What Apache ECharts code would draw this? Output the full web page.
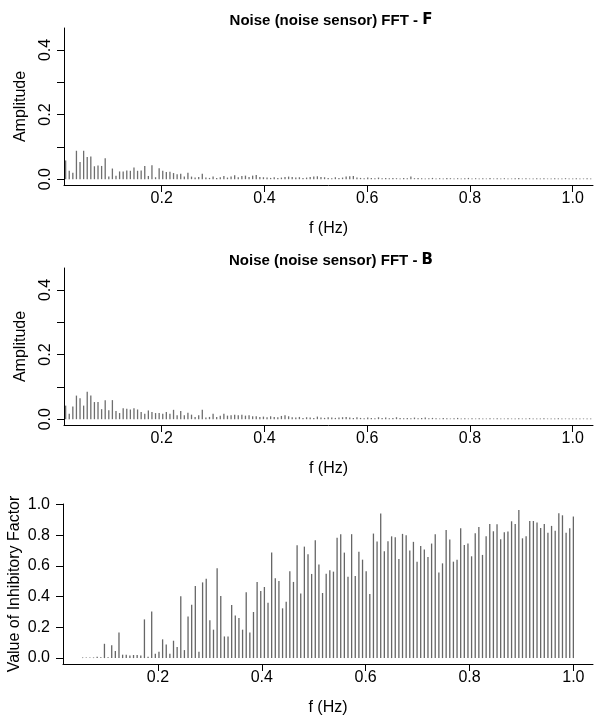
<!DOCTYPE html>
<html>
<head>
<meta charset="utf-8">
<script src="https://cdn.jsdelivr.net/npm/echarts@6/dist/echarts.min.js"></script>
<style>
  html, body { margin: 0; padding: 0; background: #fff; }
  #chart { width: 597px; height: 715px; }
</style>
</head>
<body>
<div id="chart"></div>
<script>
// FFT amplitude of the noise sensor, front (F) and back (B) channels
const fftF = [
  0.058,0.026,0.020,0.088,0.053,0.088,0.069,0.070,0.040,0.042,
  0.041,0.065,0.008,0.033,0.011,0.024,0.024,0.027,0.026,0.036,
  0.026,0.027,0.041,0.010,0.043,0.006,0.034,0.026,0.022,0.023,
  0.019,0.015,0.017,0.008,0.020,0.008,0.005,0.007,0.017,0.005,
  0.004,0.008,0.004,0.006,0.010,0.005,0.008,0.012,0.006,0.010,
  0.011,0.007,0.011,0.013,0.007,0.006,0.005,0.004,0.006,0.004,
  0.005,0.007,0.008,0.007,0.005,0.006,0.004,0.005,0.007,0.008,
  0.009,0.007,0.006,0.004,0.003,0.006,0.004,0.005,0.008,0.009,
  0.010,0.005,0.004,0.003,0.005,0.004,0.003,0.005,0.003,0.004,
  0.003,0.004,0.003,0.002,0.004,0.003,0.008,0.003,0.004,0.003,
  0.002,0.003,0.004,0.002,0.003,0.002,0.004,0.003,0.002,0.003,
  0.002,0.003,0.004,0.002,0.003,0.002,0.003,0.002,0.004,0.002,
  0.003,0.002,0.003,0.002,0.002,0.003,0.004,0.002,0.003,0.002,
  0.002,0.003,0.002,0.003,0.002,0.002,0.003,0.002,0.002,0.003,
  0.002,0.002,0.003,0.002,0.002,0.003,0.002
];
const fftB = [
  0.042,0.017,0.039,0.073,0.065,0.042,0.085,0.073,0.053,0.053,
  0.031,0.059,0.028,0.059,0.025,0.019,0.034,0.032,0.030,0.034,
  0.030,0.022,0.017,0.027,0.022,0.019,0.019,0.017,0.022,0.017,
  0.029,0.012,0.025,0.012,0.020,0.014,0.007,0.012,0.029,0.005,
  0.007,0.017,0.007,0.011,0.017,0.011,0.012,0.014,0.012,0.014,
  0.011,0.012,0.009,0.009,0.007,0.008,0.006,0.009,0.007,0.006,
  0.010,0.012,0.009,0.006,0.005,0.007,0.004,0.006,0.005,0.004,
  0.008,0.005,0.004,0.006,0.005,0.004,0.005,0.006,0.007,0.005,
  0.004,0.006,0.004,0.003,0.005,0.004,0.003,0.006,0.004,0.005,
  0.003,0.004,0.006,0.004,0.003,0.004,0.003,0.005,0.003,0.004,
  0.005,0.003,0.004,0.003,0.002,0.004,0.003,0.002,0.003,0.004,
  0.002,0.003,0.002,0.003,0.002,0.003,0.002,0.002,0.003,0.002,
  0.003,0.002,0.002,0.003,0.002,0.002,0.003,0.002,0.002,0.003,
  0.002,0.002,0.002,0.003,0.002,0.002,0.002,0.003,0.002,0.002,
  0.002,0.002,0.002,0.002,0.002,0.002,0.002
];
// Inhibitory factor per frequency bin
const inhibitory = [
  0.004,0.004,0.004,0.004,0.009,0.005,0.093,0.005,0.083,0.046,
  0.167,0.022,0.022,0.017,0.020,0.020,0.017,0.252,0.009,0.304,
  0.028,0.041,0.122,0.089,0.028,0.113,0.072,0.402,0.052,0.270,
  0.348,0.470,0.041,0.493,0.517,0.246,0.185,0.585,0.404,0.141,
  0.141,0.346,0.278,0.261,0.185,0.428,0.167,0.300,0.496,0.437,
  0.463,0.361,0.687,0.520,0.502,0.324,0.367,0.565,0.496,0.735,
  0.420,0.726,0.676,0.548,0.767,0.609,0.424,0.550,0.572,0.563,
  0.783,0.807,0.687,0.530,0.807,0.535,0.693,0.641,0.565,0.417,
  0.811,0.759,0.941,0.696,0.761,0.793,0.787,0.646,0.809,0.800,
  0.700,0.757,0.628,0.730,0.707,0.659,0.746,0.807,0.557,0.617,
  0.835,0.772,0.628,0.641,0.846,0.737,0.746,0.663,0.813,0.854,
  0.672,0.793,0.874,0.826,0.872,0.774,0.820,0.824,0.891,0.874,
  0.965,0.780,0.793,0.893,0.893,0.883,0.848,0.874,0.817,0.861,
  0.830,0.943,0.930,0.817,0.846,0.922
];

// frequency grid (Hz): first bin and bin spacing
const FFT_START = 0.013;
const INHIB_START = 0.055;
const BIN_STEP = 0.007;

const freqTicks = [0.2, 0.4, 0.6, 0.8, 1.0];
const ampTicks = [0, 0.1, 0.2, 0.3, 0.4];
const ampLabels = [0, 0.2, 0.4];
const inhibTicks = [0, 0.2, 0.4, 0.6, 0.8, 1.0];

const FONT = '"Liberation Sans", Arial, Helvetica, sans-serif';

function toPairs(start, values) {
  return values.map((v, i) => [+(start + i * BIN_STEP).toFixed(4), v]);
}

const axisLineStyle = { show: true, onZero: false, lineStyle: { color: '#000', width: 1 } };
const labelText = { color: '#000', fontFamily: FONT, fontSize: 16 };

function freqAxis(gridIndex, min, max) {
  return {
    type: 'value', gridIndex, min, max,
    axisLine: axisLineStyle,
    axisTick: { show: true, length: 7, customValues: freqTicks, lineStyle: { color: '#000' } },
    axisLabel: Object.assign({ customValues: freqTicks, margin: 6, formatter: v => v.toFixed(1) }, labelText),
    splitLine: { show: false },
    name: 'f (Hz)', nameLocation: 'middle', nameGap: 36, nameMoveOverlap: false,
    nameTextStyle: labelText
  };
}

function ampAxis(gridIndex) {
  return {
    type: 'value', gridIndex, min: -0.018, max: 0.468,
    axisLine: axisLineStyle,
    axisTick: { show: true, length: 7, customValues: ampTicks, lineStyle: { color: '#000' } },
    axisLabel: Object.assign({ customValues: ampLabels, margin: 10, rotate: 90, formatter: v => v.toFixed(1) }, labelText),
    splitLine: { show: false },
    name: 'Amplitude', nameLocation: 'middle', nameGap: 35, nameMoveOverlap: false,
    nameTextStyle: labelText
  };
}

function spikes(name, xi, data, color) {
  return {
    name, type: 'bar', xAxisIndex: xi, yAxisIndex: xi,
    data, barWidth: 1.3, silent: true,
    itemStyle: { color }
  };
}

function titleFor(letter, top) {
  return {
    text: '{a|Noise (noise sensor) FFT - }{b|' + letter + '}',
    left: 326, top, textAlign: 'center',
    textStyle: {
      rich: {
        a: { fontFamily: FONT, fontSize: 15, fontWeight: 'bold', color: '#000' },
        b: { fontFamily: '"DejaVu Sans", sans-serif', fontSize: 15, fontWeight: 'bold', color: '#000' }
      }
    }
  };
}

const gridBase = { outerBoundsMode: 'none', containLabel: false };

const chart = echarts.init(document.getElementById('chart'), null, { renderer: 'canvas' });
chart.setOption({
  animation: false,
  backgroundColor: '#fff',
  title: [titleFor('F', 8), titleFor('B', 248)],
  grid: [
    Object.assign({ left: 64, top: 28, width: 529, height: 157 }, gridBase),
    Object.assign({ left: 64, top: 268, width: 529, height: 157 }, gridBase),
    Object.assign({ left: 63, top: 504, width: 530, height: 160 }, gridBase)
  ],
  xAxis: [
    freqAxis(0, 0.0098, 1.0395),
    freqAxis(1, 0.0098, 1.0395),
    freqAxis(2, 0.0172, 1.0378)
  ],
  yAxis: [
    ampAxis(0),
    ampAxis(1),
    {
      type: 'value', gridIndex: 2, min: -0.0386, max: 1.0036,
      axisLine: axisLineStyle,
      axisTick: { show: true, length: 7, customValues: inhibTicks, lineStyle: { color: '#000' } },
      axisLabel: Object.assign({ customValues: inhibTicks, margin: 13, formatter: v => v.toFixed(1) }, labelText),
      splitLine: { show: false },
      name: 'Value of Inhibitory Factor', nameLocation: 'middle', nameGap: 40, nameMoveOverlap: false,
      nameTextStyle: labelText
    }
  ],
  series: [
    spikes('FFT - F', 0, toPairs(FFT_START, fftF), '#6e6e6e'),
    spikes('FFT - B', 1, toPairs(FFT_START, fftB), '#6e6e6e'),
    spikes('Inhibitory factor', 2, toPairs(INHIB_START, inhibitory), '#666666')
  ]
});
</script>
</body>
</html>
